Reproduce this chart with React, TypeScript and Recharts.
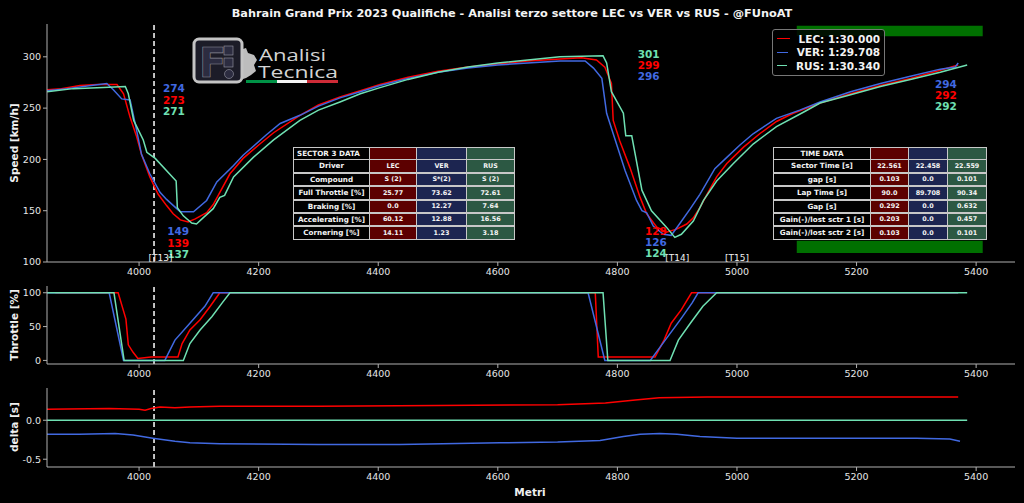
import React from 'react';
import { LineChart, Line, XAxis, YAxis, ReferenceLine, ReferenceDot, ReferenceArea, Legend } from 'recharts';

const FONT = '"DejaVu Sans", sans-serif';
const RED = '#ff0000';
const BLUE = '#4169e1';
const GREEN = '#6fe0b2';
const AXC = '#b0b0b0';
const TXT = '#e6e6e6';

const X_DOMAIN: [number, number] = [3846, 5465];
const X_TICKS = [4000, 4200, 4400, 4600, 4800, 5000, 5200, 5400];
const SPEED_TICKS = [100, 150, 200, 250, 300];
const THROTTLE_TICKS = [0, 50, 100];
const DELTA_TICKS = [-0.5, 0];
const T13_DIST = 4025;

// Speed traces
const lecSpeedM = [3846, 3870, 3901, 3930, 3963, 3974, 3985, 3996, 4004, 4018, 4032, 4046, 4057, 4069, 4082, 4094, 4113, 4124, 4152, 4174, 4202, 4225, 4269, 4300, 4336, 4370, 4403, 4450, 4500, 4550, 4600, 4650, 4704, 4740, 4765, 4779, 4790, 4793, 4804, 4821, 4838, 4849, 4866, 4882, 4899, 4916, 4927, 4938, 4949, 4966, 4983, 5011, 5038, 5066, 5094, 5139, 5190, 5240, 5290, 5340, 5370];
const lecSpeedV = [268, 269, 272, 273, 273, 264, 241, 222, 205, 183, 166, 155, 147, 141, 139, 142, 148, 156, 186, 201, 215, 226, 243, 253, 261, 267, 273, 280, 286, 290, 293, 296, 298, 299, 297, 290, 274, 238, 218, 192, 163, 147, 134, 129, 132, 137, 143, 153, 165, 183, 196, 212, 225, 237, 245, 255, 264, 272, 279, 287, 292];

const verSpeedM = [3846, 3880, 3920, 3946, 3957, 3971, 3985, 3996, 4004, 4018, 4035, 4046, 4063, 4069, 4091, 4113, 4130, 4158, 4174, 4213, 4236, 4269, 4300, 4336, 4370, 4403, 4450, 4500, 4550, 4600, 4650, 4704, 4746, 4760, 4774, 4782, 4793, 4813, 4832, 4841, 4849, 4860, 4877, 4890, 4905, 4922, 4938, 4963, 4983, 5005, 5027, 5066, 5105, 5139, 5190, 5240, 5290, 5340, 5365, 5370];
const verSpeedV = [267, 269, 272, 274, 268, 259, 258, 228, 205, 186, 168, 161, 152, 149, 149, 160, 178, 194, 204, 224, 235, 243, 252, 260, 266, 272, 279, 285, 289, 292, 294, 296, 296, 289, 279, 245, 225, 189, 160, 150, 148, 135, 127, 126, 138, 152, 166, 191, 202, 214, 225, 240, 248, 256, 266, 274, 281, 288, 290, 294];

const rusSpeedM = [3846, 3890, 3940, 3977, 3982, 3991, 4007, 4013, 4027, 4062, 4064, 4074, 4088, 4096, 4107, 4124, 4135, 4143, 4158, 4191, 4225, 4269, 4300, 4336, 4370, 4403, 4450, 4500, 4550, 4600, 4650, 4704, 4776, 4782, 4790, 4810, 4814, 4824, 4841, 4857, 4882, 4896, 4907, 4927, 4944, 4966, 4994, 5027, 5066, 5111, 5139, 5190, 5240, 5290, 5340, 5385];
const rusSpeedV = [266, 269, 270, 271, 264, 238, 219, 207, 201, 179, 153, 145, 138, 137, 143, 152, 163, 165, 183, 202, 219, 238, 248, 256, 264, 270, 278, 285, 290, 294, 297, 300, 301, 294, 266, 245, 223, 223, 170, 150, 134, 124, 127, 140, 160, 179, 196, 215, 232, 246, 255, 263, 271, 278, 285, 292];

// Throttle traces
const lecThrM = [3860, 3965, 3978, 3982, 3990, 3998, 4020, 4065, 4072, 4085, 4102, 4119, 4135, 4763, 4768, 4800, 4863, 4878, 4890, 4907, 4924, 5370];
const lecThrV = [100, 100, 61, 23, 12, 3, 5, 5, 25, 45, 60, 80, 100, 100, 5, 5, 5, 30, 55, 75, 100, 100];
const verThrM = [3846, 3950, 3974, 4043, 4060, 4085, 4110, 4124, 4751, 4779, 4855, 4880, 4905, 4925, 4935, 5370];
const verThrV = [100, 100, 0, 0, 30, 55, 80, 100, 100, 0, 0, 30, 60, 85, 100, 100];
const rusThrM = [3846, 3958, 3975, 4074, 4085, 4102, 4122, 4139, 4152, 4776, 4784, 4888, 4902, 4922, 4943, 4966, 5385];
const rusThrV = [100, 100, 0, 0, 25, 45, 65, 85, 100, 100, 0, 0, 30, 55, 80, 100, 100];

// Delta traces (vs RUS reference)
const lecDeltaM = [3846, 3950, 4000, 4010, 4020, 4035, 4060, 4085, 4135, 4300, 4500, 4700, 4780, 4830, 4870, 4950, 5100, 5300, 5370];
const lecDeltaV = [0.14, 0.15, 0.14, 0.13, 0.15, 0.17, 0.16, 0.17, 0.18, 0.18, 0.19, 0.2, 0.22, 0.26, 0.29, 0.3, 0.3, 0.3, 0.3];
const verDeltaM = [3846, 3900, 3960, 3990, 4023, 4060, 4085, 4135, 4300, 4436, 4604, 4700, 4771, 4810, 4838, 4871, 4900, 4938, 5000, 5105, 5300, 5356, 5373];
const verDeltaV = [-0.18, -0.18, -0.17, -0.19, -0.23, -0.27, -0.29, -0.3, -0.31, -0.31, -0.29, -0.28, -0.26, -0.21, -0.18, -0.17, -0.18, -0.21, -0.23, -0.23, -0.23, -0.24, -0.27];
const rusDeltaM = [3846, 5385];
const rusDeltaV = [0, 0];

// Annotations (distance, speed, text)
const speedNotes = [
  { m: 4040, v: 269.6, t: '274', c: BLUE },
  { m: 4040, v: 257.8, t: '273', c: RED },
  { m: 4040, v: 247.1, t: '271', c: GREEN },
  { m: 4047, v: 130.4, t: '149', c: BLUE },
  { m: 4047, v: 118.6, t: '139', c: RED },
  { m: 4047, v: 107.8, t: '137', c: GREEN },
  { m: 4834, v: 302.9, t: '301', c: GREEN },
  { m: 4834, v: 292.2, t: '299', c: RED },
  { m: 4834, v: 281.4, t: '296', c: BLUE },
  { m: 4846, v: 130.4, t: '129', c: RED },
  { m: 4846, v: 119.6, t: '126', c: BLUE },
  { m: 4846, v: 108.8, t: '124', c: GREEN },
  { m: 5331, v: 273.5, t: '294', c: BLUE },
  { m: 5331, v: 262.7, t: '292', c: RED },
  { m: 5331, v: 252.0, t: '292', c: GREEN },
];
const turnNotes = [
  { m: 4036, v: 104, t: '[T13]' },
  { m: 4900, v: 104, t: '[T14]' },
  { m: 5000, v: 104, t: '[T15]' },
];

const legendNames = ['LEC: 1:30.000', 'VER: 1:29.708', 'RUS: 1:30.340'];

const sectorRows = [
  ['SECTOR 3 DATA', '', '', ''],
  ['Driver', 'LEC', 'VER', 'RUS'],
  ['Compound', 'S (2)', 'S*(2)', 'S (2)'],
  ['Full Throttle [%]', '25.77', '73.62', '72.61'],
  ['Braking [%]', '0.0', '12.27', '7.64'],
  ['Accelerating [%]', '60.12', '12.88', '16.56'],
  ['Cornering [%]', '14.11', '1.23', '3.18'],
];
const timeRows = [
  ['TIME DATA', '', '', ''],
  ['Sector Time [s]', '22.561', '22.458', '22.559'],
  ['gap [s]', '0.103', '0.0', '0.101'],
  ['Lap Time [s]', '90.0', '89.708', '90.34'],
  ['Gap [s]', '0.292', '0.0', '0.632'],
  ['Gain(-)/lost sctr 1 [s]', '0.203', '0.0', '0.457'],
  ['Gain(-)/lost sctr 2 [s]', '0.103', '0.0', '0.101'],
];

const zip = (m: number[], v: number[]) => m.map((x, i) => ({ m: x, v: v[i] }));

const tickStyle = { fill: TXT, fontSize: 9.5, fontFamily: FONT };

const frameAxes = (yDomain: [number, number]) => [
  <XAxis key="xt" xAxisId="top" orientation="top" type="number" dataKey="m" domain={X_DOMAIN} allowDataOverflow height={0} tick={false} tickLine={false} stroke={AXC} />,
  <YAxis key="yr" yAxisId="right" orientation="right" type="number" domain={yDomain} allowDataOverflow width={0} tick={false} tickLine={false} stroke={AXC} />,
];

const xAxisMain = (h: number) => (
  <XAxis type="number" dataKey="m" domain={X_DOMAIN} ticks={X_TICKS} allowDataOverflow height={h} stroke={AXC} tick={tickStyle} tickSize={4} />
);

const TextShape = (color: string, text: string, size: number, weight: string, anchor: string) => (p: any) => (
  <text x={p.cx} y={p.cy} fill={color} fontSize={size} fontWeight={weight} fontFamily={FONT} textAnchor={anchor} dominantBaseline="central">{text}</text>
);

const LegendContent = (props: any) => {
  const items = [...(props.payload || [])].sort((a: any, b: any) => legendNames.indexOf(a.value) - legendNames.indexOf(b.value));
  return (
    <div style={{ border: '1px solid #777', borderRadius: 3, background: 'rgba(0,0,0,0.85)', padding: '2px 4px 2px 4px', width: 103 }}>
      {items.map((it: any, i: number) => (
        <div key={i} style={{ display: 'flex', alignItems: 'center', height: 13.5 }}>
          <div style={{ width: 19, height: 0, borderTop: `1.5px solid ${it.color}`, marginRight: 9 }} />
          <span style={{ color: '#f2f2f2', fontSize: 10.5, fontWeight: 'bold', fontFamily: FONT, whiteSpace: 'nowrap' }}>{it.value}</span>
        </div>
      ))}
    </div>
  );
};

const DataTable = ({ rows, left, top, widths, header }: { rows: string[][]; left: number; top: number; widths: number[]; header: boolean }) => {
  const bgs = ['#000000', '#5c0000', '#1c2550', '#2c5843'];
  const rowH = 13.4;
  return (
    <div style={{ position: 'absolute', left, top, fontFamily: FONT }}>
      {rows.map((r, ri) => (
        <div key={ri} style={{ display: 'flex', height: rowH }}>
          {r.map((c, ci) => (
            <div key={ci} style={{
              width: widths[ci], height: rowH, boxSizing: 'border-box', border: '1px solid #c8c8c8', marginLeft: ci ? -1 : 0, marginTop: ri ? -1 : 0,
              background: bgs[ci], color: '#f4f4f4', fontWeight: 'bold', fontSize: ci === 0 ? 7.2 : 6.4,
              display: 'flex', alignItems: 'center', justifyContent: (ri === 0 && header) ? 'flex-start' : 'center', paddingLeft: (ri === 0 && header && ci === 0) ? 3 : 0,
              whiteSpace: 'nowrap', overflow: 'hidden', lineHeight: 1,
            }}>{c}</div>
          ))}
        </div>
      ))}
    </div>
  );
};

const Logo = () => (
  <svg style={{ position: 'absolute', left: 0, top: 0 }} width={1024} height={503}>
    <path d="M240 50 L246 48 L248 53 L254 55 L257 60 L254 65 L256 71 L251 75 L246 78 L240 80 Z" fill="#bdbdbd" />
    <rect x={194} y={39} width={48} height={43} rx={5} fill="#1c1c28" stroke="#c4c4c4" strokeWidth={3} />
    <text x={199} y={77} fill="#2c2c40" stroke="#8a8a96" strokeWidth={0.6} fontSize={40} fontWeight="bold" fontFamily={FONT}>F</text>
    <rect x={224} y={46} width={9} height={9} fill="#2c2c40" stroke="#9a9aa6" strokeWidth={0.6} />
    <rect x={224} y={58} width={9} height={9} fill="#2c2c40" stroke="#9a9aa6" strokeWidth={0.6} />
    <circle cx={229} cy={74} r={4.5} fill="#2c2c40" stroke="#9a9aa6" strokeWidth={0.6} />
    <text x={259} y={60.5} fill="#d4d4d4" fontSize={15.5} fontFamily='"Open Sans", sans-serif' textLength={67} lengthAdjust="spacingAndGlyphs">Analisi</text>
    <text x={258} y={77.5} fill="#d4d4d4" fontSize={15.5} fontFamily='"Open Sans", sans-serif' textLength={80} lengthAdjust="spacingAndGlyphs">Tecnica</text>
    <rect x={246} y={80} width={31} height={3} fill="#009246" />
    <rect x={277} y={80} width={30} height={3} fill="#f4f4f4" />
    <rect x={307} y={80} width={31} height={3} fill="#ce2b37" />
  </svg>
);

const axisTitle = (text: string, cx: number, cy: number, rotate: boolean) => (
  <div style={{
    position: 'absolute', left: cx, top: cy, transform: `translate(-50%, -50%)${rotate ? ' rotate(-90deg)' : ''}`,
    color: '#f0f0f0', fontFamily: FONT, fontWeight: 'bold', fontSize: 10.5, whiteSpace: 'nowrap',
  }}>{text}</div>
);

export default function App() {
  const lecS = zip(lecSpeedM, lecSpeedV);
  const verS = zip(verSpeedM, verSpeedV);
  const rusS = zip(rusSpeedM, rusSpeedV);
  const lecT = zip(lecThrM, lecThrV);
  const verT = zip(verThrM, verThrV);
  const rusT = zip(rusThrM, rusThrV);
  const lecD = zip(lecDeltaM, lecDeltaV);
  const verD = zip(verDeltaM, verDeltaV);
  const rusD = zip(rusDeltaM, rusDeltaV);
  const dash = <ReferenceLine x={T13_DIST} stroke="#f0f0f0" strokeWidth={1.6} strokeDasharray="5 3" />;

  return (
    <div style={{ position: 'absolute', left: 0, top: 0, width: 1024, height: 503, background: '#000', overflow: 'hidden' }}>
      <div style={{ position: 'absolute', left: 0, top: 7, width: 1024, textAlign: 'center', color: '#f4f4f4', fontFamily: FONT, fontWeight: 'bold', fontSize: 11.3 }}>
        Bahrain Grand Prix 2023 Qualifiche - Analisi terzo settore LEC vs VER vs RUS - @FUnoAT
      </div>

      <div style={{ position: 'absolute', left: 0, top: 0 }}>
        <LineChart width={1024} height={282} margin={{ top: 24, right: 9, bottom: 0, left: 17 }}>
          {xAxisMain(20)}
          <YAxis type="number" domain={[100, 332]} ticks={SPEED_TICKS} allowDataOverflow width={30} stroke={AXC} tick={tickStyle} tickSize={4} />
          {frameAxes([100, 332])}
          <ReferenceArea x1={5100} x2={5411} y1={320} y2={330.4} fill="#007000" fillOpacity={1} stroke="none" />
          <ReferenceArea x1={5100} x2={5411} y1={108.8} y2={120.6} fill="#007000" fillOpacity={1} stroke="none" />
          {dash}
          <Line data={lecS} dataKey="v" name={legendNames[0]} stroke={RED} strokeWidth={1.5} dot={false} isAnimationActive={false} />
          <Line data={verS} dataKey="v" name={legendNames[1]} stroke={BLUE} strokeWidth={1.5} dot={false} isAnimationActive={false} />
          <Line data={rusS} dataKey="v" name={legendNames[2]} stroke={GREEN} strokeWidth={1.5} dot={false} isAnimationActive={false} />
          {speedNotes.map((n, i) => (
            <ReferenceDot key={'n' + i} x={n.m} y={n.v} r={0} shape={TextShape(n.c, n.t, 10.5, 'bold', 'start')} />
          ))}
          {turnNotes.map((n, i) => (
            <ReferenceDot key={'t' + i} x={n.m} y={n.v} r={0} shape={TextShape('#f0f0f0', n.t, 9, 'normal', 'middle')} />
          ))}
          <Legend layout="horizontal" verticalAlign="middle" align="center" content={LegendContent} wrapperStyle={{ left: 772, top: 29, width: 113, height: 44 }} />
        </LineChart>
      </div>

      <div style={{ position: 'absolute', left: 0, top: 270 }}>
        <LineChart width={1024} height={112} margin={{ top: 16, right: 9, bottom: 0, left: 17 }}>
          {xAxisMain(18)}
          <YAxis type="number" domain={[-5.3, 110]} ticks={THROTTLE_TICKS} allowDataOverflow width={30} stroke={AXC} tick={tickStyle} tickSize={4} />
          {frameAxes([-5.3, 110])}
          {dash}
          <Line data={lecT} dataKey="v" stroke={RED} strokeWidth={1.5} dot={false} isAnimationActive={false} />
          <Line data={verT} dataKey="v" stroke={BLUE} strokeWidth={1.5} dot={false} isAnimationActive={false} />
          <Line data={rusT} dataKey="v" stroke={GREEN} strokeWidth={1.5} dot={false} isAnimationActive={false} />
        </LineChart>
      </div>

      <div style={{ position: 'absolute', left: 0, top: 380 }}>
        <LineChart width={1024} height={109} margin={{ top: 8, right: 9, bottom: 0, left: 17 }}>
          {xAxisMain(22)}
          <YAxis type="number" domain={[-0.6, 0.414]} ticks={DELTA_TICKS} allowDataOverflow width={30} stroke={AXC} tick={tickStyle} tickSize={4} tickFormatter={(v: number) => v.toFixed(1)} />
          {frameAxes([-0.6, 0.414])}
          {dash}
          <Line data={lecD} dataKey="v" stroke={RED} strokeWidth={1.5} dot={false} isAnimationActive={false} />
          <Line data={verD} dataKey="v" stroke={BLUE} strokeWidth={1.5} dot={false} isAnimationActive={false} />
          <Line data={rusD} dataKey="v" stroke={GREEN} strokeWidth={1.5} dot={false} isAnimationActive={false} />
        </LineChart>
      </div>

      <Logo />
      <DataTable rows={sectorRows} left={293} top={147} widths={[77, 48, 51, 49]} header />
      <DataTable rows={timeRows} left={773} top={147} widths={[98, 39, 40, 40]} header={false} />

      {axisTitle('Speed [km/h]', 14, 143, true)}
      {axisTitle('Throttle [%]', 14, 325, true)}
      {axisTitle('delta [s]', 14, 427, true)}
      {axisTitle('Metri', 530, 492, false)}
    </div>
  );
}
